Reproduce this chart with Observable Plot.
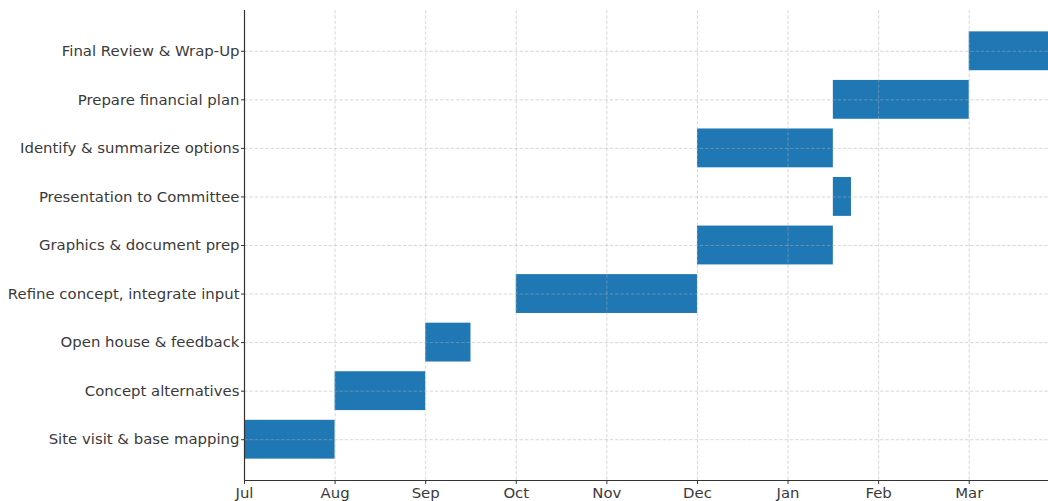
<!DOCTYPE html>
<html>
<head>
<meta charset="utf-8">
<script src="https://cdn.jsdelivr.net/npm/d3@7"></script>
<script src="https://cdn.jsdelivr.net/npm/@observablehq/plot@0.6"></script>
<style>
  html, body { margin: 0; padding: 0; background: #fff; }
  #chart svg { display: block; }
</style>
</head>
<body>
<div id="chart"></div>
<script>
// Tasks, bottom to top
const tasks = [
  "Site visit & base mapping",
  "Concept alternatives",
  "Open house & feedback",
  "Refine concept, integrate input",
  "Graphics & document prep",
  "Presentation to Committee",
  "Identify & summarize options",
  "Prepare financial plan",
  "Final Review & Wrap-Up"
];
// start position and duration, in months from July
const starts    = [0, 1, 2,   3, 5,   6.5, 5,   6.5, 8];
const durations = [1, 1, 0.5, 2, 1.5, 0.2, 1.5, 1.5, 1];
// month tick labels
const monthLabels = ["Jul", "Aug", "Sep", "Oct", "Nov", "Dec", "Jan", "Feb", "Mar"];

const rows = tasks.map((t, i) => ({task: t, i, start: starts[i], end: starts[i] + durations[i]}));
const monthTicks = monthLabels.map((_, i) => i);
const rowTicks = tasks.map((_, i) => i);

const xDomain = [0, 8.875];
const yDomain = [-0.84, 8.84];
const gridStyle = {stroke: "#b0b0b0", strokeOpacity: 0.55, strokeWidth: 0.9, strokeDasharray: "3.5,1.8"};
const textColor = "#3a3a3a";

const chart = Plot.plot({
  width: 1048,
  height: 501,
  marginLeft: 244,
  marginRight: 0,
  marginTop: 10,
  marginBottom: 21,
  style: {fontFamily: "DejaVu Sans, sans-serif", fontSize: "14.9px", color: textColor, background: "#fff"},
  x: {type: "linear", domain: xDomain},
  y: {type: "linear", domain: yDomain},
  marks: [
    Plot.rect(rows, {x1: "start", x2: "end", y1: d => d.i - 0.4, y2: d => d.i + 0.4, fill: "#1f77b4", clip: true}),
    Plot.gridX(monthTicks, gridStyle),
    Plot.gridY(rowTicks, gridStyle),
    Plot.axisX(monthTicks, {tickFormat: i => monthLabels[i], tickSize: 4, tickPadding: 2.5, fontSize: 14.9, stroke: "#333", fill: textColor, label: null}),
    Plot.axisY(rowTicks, {tickFormat: i => tasks[i], tickSize: 3, tickPadding: 2, fontSize: 14.9, stroke: "#333", fill: textColor, label: null}),
    Plot.ruleX([xDomain[0]], {stroke: "#333", strokeWidth: 1.2}),
    Plot.ruleY([yDomain[0]], {stroke: "#333", strokeWidth: 1.2})
  ]
});
document.getElementById("chart").appendChild(chart);
</script>
</body>
</html>
